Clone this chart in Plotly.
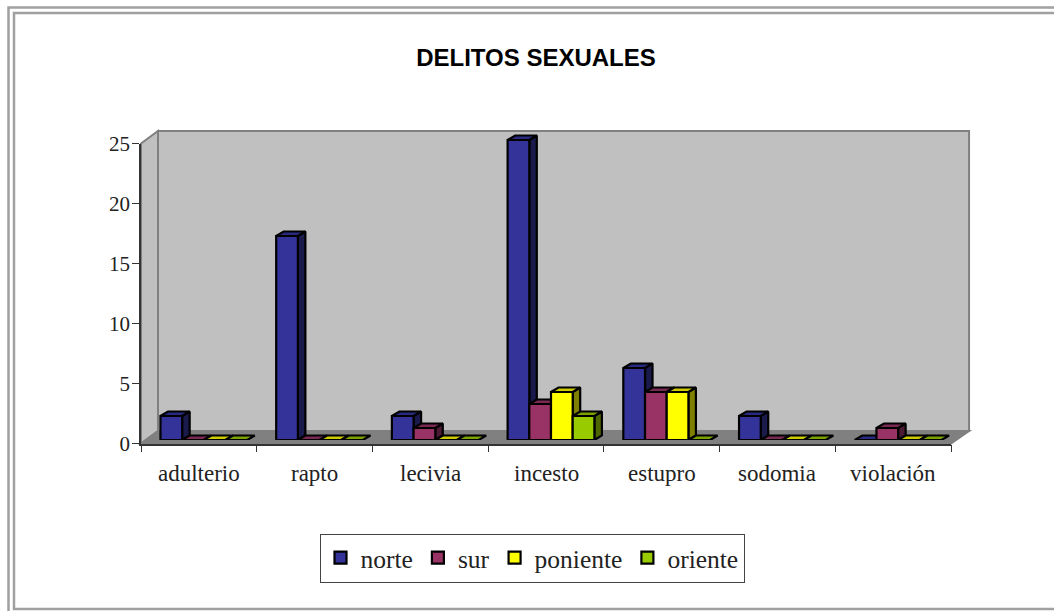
import plotly.graph_objects as go

W, H = 1054, 611

# ---------------- data ----------------
categorias = ["adulterio", "rapto", "lecivia", "incesto", "estupro", "sodomia", "violación"]
series = ["norte", "sur", "poniente", "oriente"]
norte = [2, 17, 2, 25, 6, 2, 0]
sur = [0, 0, 1, 3, 4, 0, 1]
poniente = [0, 0, 0, 4, 4, 0, 0]
oriente = [0, 0, 0, 2, 0, 0, 0]
valores = [norte, sur, poniente, oriente]
y_ticks = [0, 5, 10, 15, 20, 25]

# front, top, side
colores = [
    ("#333399", "#292980", "#1a1a4d"),
    ("#993366", "#7a2952", "#4d1a33"),
    ("#ffff00", "#cccc00", "#808000"),
    ("#99cc00", "#7aa300", "#4d6600"),
]

# plot box in pixels
X0, X1 = 141, 951
Y_TOP, Y_BASE = 143.5, 443.5
DESP_X, DESP_Y = 5, 3.5
BAR_W = 0.1875
PX_UNIDAD = (Y_BASE - Y_TOP) / 25
FONDO_X = 7.5 / ((X1 - X0) / 7)
FONDO_Y = 4.5 / PX_UNIDAD
Y_MAX_BARRAS = 26


def px(x):
    return x / W


def py(y):
    return 1 - y / H


fig = go.Figure()

# side and top faces sit under the fronts
for s, vals in enumerate(valores):
    sx, sy, tx, ty = [], [], [], []
    for i, v in enumerate(vals):
        izq = i + 0.5 + (s - 2) * BAR_W
        der = izq + BAR_W
        if v > 0:
            sx += [der, der + FONDO_X, der + FONDO_X, der, der, None]
            sy += [0, FONDO_Y, v + FONDO_Y, v, 0, None]
        tx += [izq, izq + FONDO_X, der + FONDO_X, der, izq, None]
        ty += [v, v + FONDO_Y, v + FONDO_Y, v, v, None]
    for xs, ys, col in ((sx, sy, colores[s][2]), (tx, ty, colores[s][1])):
        fig.add_trace(go.Scatter(
            x=xs, y=ys, mode="lines", fill="toself", fillcolor=col,
            line=dict(color="black", width=2.2), xaxis="x2", yaxis="y2",
            showlegend=False, hoverinfo="skip", cliponaxis=False,
        ))

for s, vals in enumerate(valores):
    fig.add_trace(go.Bar(
        x=[i + 0.5 for i in range(len(categorias))], y=vals, name=series[s], width=BAR_W,
        marker=dict(color=colores[s][0], line=dict(color="black", width=2.2)),
        xaxis="x3", yaxis="y3", cliponaxis=False,
    ))

# walls and floor of the box
paredes = [
    ([(158, 131), (969, 131), (969, 431), (158, 431)], "#c0c0c0", "#808080"),
    ([(141, 143.5), (158, 131), (158, 431), (141, 443.5)], "#c0c0c0", "#808080"),
    ([(141, 443.5), (158, 431), (969, 431), (951, 443.5)], "#808080", "#808080"),
]
formas = []
for puntos, relleno, linea in paredes:
    path = "M " + " L ".join(f"{px(a):.4f},{py(b):.4f}" for a, b in puntos) + " Z"
    formas.append(dict(type="path", path=path, xref="paper", yref="paper", layer="below",
                       fillcolor=relleno, line=dict(color=linea, width=2)))

# double frame round the chart, its right side falls off the page
for (a, b, c, d) in [(8.5, 7.5, 1070, 640), (14, 13, 1070, 609)]:
    formas.append(dict(type="rect", xref="paper", yref="paper", layer="below",
                       x0=px(a), x1=px(c), y0=py(b), y1=py(d),
                       line=dict(color="#a0a0a0", width=2.5)))

dom_x = [px(X0), px(X1)]
dom_y = [py(Y_BASE), py(Y_TOP)]
dom_x2 = [px(X0 + DESP_X), px(X1 + DESP_X)]
# bar axes reach one unit higher so the 25 bar keeps its top face
dom_y2 = [py(Y_BASE - DESP_Y), py(Y_BASE - DESP_Y - PX_UNIDAD * Y_MAX_BARRAS)]
oculto = dict(visible=False, fixedrange=True)

fig.update_layout(
    width=W,
    height=H,
    margin=dict(l=0, r=0, t=0, b=0, autoexpand=False),
    paper_bgcolor="white",
    plot_bgcolor="rgba(0,0,0,0)",
    barmode="group",
    bargap=0.25,
    bargroupgap=0,
    shapes=formas,
    font=dict(family="Liberation Serif", size=17, color="#222222"),
    xaxis=dict(
        domain=dom_x, range=[0, 7], tickvals=[0, 1, 2, 3, 4, 5, 6, 7], ticktext=[""] * 8,
        ticks="outside", ticklen=7, tickcolor="#333333", showgrid=False, zeroline=False,
        showline=True, linecolor="#333333", linewidth=1.5,
    ),
    yaxis=dict(
        domain=dom_y, range=[0, 25], tickvals=y_ticks,
        ticks="outside", ticklen=7, tickcolor="#333333", showgrid=False, zeroline=False,
        showline=True, linecolor="#333333", linewidth=1.5, tickfont=dict(size=21),
        ticklabelstandoff=-2,
    ),
    xaxis2=dict(domain=dom_x2, range=[0, 7], anchor="y2", **oculto),
    yaxis2=dict(domain=dom_y2, range=[0, Y_MAX_BARRAS], anchor="x2", **oculto),
    xaxis3=dict(domain=dom_x2, range=[0, 7], anchor="y3", **oculto),
    yaxis3=dict(domain=dom_y2, range=[0, Y_MAX_BARRAS], anchor="x3", **oculto),
    title=dict(
        text="<b>DELITOS SEXUALES</b>", x=536 / W, xanchor="center", y=py(58), yanchor="middle",
        font=dict(family="Liberation Sans", size=24, color="black"),
    ),
    legend=dict(
        orientation="h", x=532 / W, xanchor="center", y=py(558), yanchor="middle",
        bgcolor="white", bordercolor="#444444", borderwidth=1,
        font=dict(size=25.5), traceorder="normal",
    ),
)

# category names under the front edge
for i, c in enumerate(categorias):
    fig.add_annotation(text=c, x=i + 0.5, y=0, xref="x", yref="y", yshift=-30, showarrow=False,
                       font=dict(size=23))

fig.write_html("out.html", config=dict(displayModeBar=False),
               post_script="document.body.style.margin='0';")
